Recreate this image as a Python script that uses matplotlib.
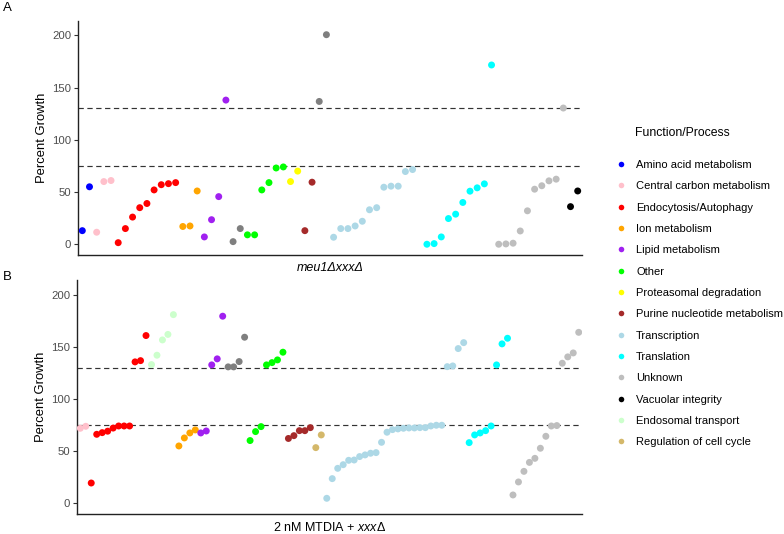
import numpy as np
import matplotlib
matplotlib.use("Agg")
import matplotlib.pyplot as plt
from matplotlib.lines import Line2D

plt.rcParams['font.family'] = ['Liberation Sans', 'DejaVu Sans']
plt.rcParams['mathtext.fontset'] = 'custom'
plt.rcParams['mathtext.rm'] = 'Liberation Sans'
plt.rcParams['mathtext.it'] = 'Liberation Sans:italic'

# colours per Function/Process (None = not in legend)
colors = {
    'Amino acid metabolism': 'blue',
    'Central carbon metabolism': 'pink',
    'Endocytosis/Autophagy': 'red',
    'Ion metabolism': 'orange',
    'Lipid metabolism': '#A020F0',
    'Other': '#00FF00',
    'Proteasomal degradation': 'yellow',
    'Purine nucleotide metabolism': 'brown',
    'Transcription': 'lightblue',
    'Translation': 'cyan',
    'Unknown': '#BEBEBE',
    'Vacuolar integrity': 'black',
    'Endosomal transport': '#CCFFCC',
    'Regulation of cell cycle': '#D4B86A',
    None: '#7F7F7F',
}
legend_order = [k for k in colors if k is not None]

# panel A: meu1ΔxxxΔ  (nan = empty slot on the x axis)
a_groups = [
    ('Amino acid metabolism', [13, 55]),
    ('Central carbon metabolism', [11.5, 60, 61]),
    ('Endocytosis/Autophagy', [1.5, 15, 26, 35, 39, 52, 57, 58, 59]),
    ('Ion metabolism', [17, 17.5, 51]),
    ('Lipid metabolism', [7, 23.5, 45.6, 138]),
    (None, [2.5, 15]),
    ('Other', [9, 9, 52, 59, 73, 74]),
    ('Proteasomal degradation', [60, 70]),
    ('Purine nucleotide metabolism', [13, 59.4]),
    (None, [136.7, 200.6]),
    ('Transcription', [6.7, 15, 15, 17.5, 22, 33, 35, 54.6, 55.6, 55.6, 69.6, 71.5, np.nan]),
    ('Translation', [0, 0.6, 7, 24.6, 28.8, 40, 50.8, 54, 57.8, 171.6]),
    ('Unknown', [0, 0.3, 1, 12.7, 32, 52.7, 56, 60.7, 62.3, 130.4]),
    ('Vacuolar integrity', [36, 51]),
]

# panel B: 2 nM MTDIA + xxxΔ
b_groups = [
    ('Central carbon metabolism', [71.8, 73.7]),
    ('Endocytosis/Autophagy', [19.2, 66, 67.6, 69, 72, 74, 74, 74, 135.6, 136.8, 160.9]),
    ('Endosomal transport', [133, 142, 156.7, 162, 181]),
    ('Ion metabolism', [54.8, 62.5, 67.3, 70.2]),
    ('Lipid metabolism', [67.3, 69.2, 132.7, 138.5, 179.5]),
    (None, [130.8, 130.8, 135.9, 159.3]),
    ('Other', [60, 68.6, 73.4, 132.7, 134.9, 137.5, 144.9]),
    ('Purine nucleotide metabolism', [62, 64.7, 69.5, 69.5, 72.4]),
    ('Regulation of cell cycle', [53.2, 65.4]),
    ('Transcription', [4.5, 23.4, 33.3, 36.8, 41, 41.3, 44.6, 46.2, 47.8, 48.4, 58.3, 68,
                       70.5, 71.2, 71.8, 72.1, 72.1, 72.4, 72.4, 74, 74.7, 74.7,
                       131, 131.7, 148.4, 154.1]),
    ('Translation', [58, 65.4, 67.3, 69.5, 74, 132.7, 152.9, 158.3]),
    ('Unknown', [7.7, 20.2, 30.4, 39, 42.9, 52.6, 64.1, 74, 74.4, 134.3, 140.4, 144.2, 164]),
]

thresholds = [75, 130]
yticks = [0, 50, 100, 150, 200]


def draw_panel(ax, groups):
    cats, vals = [], []
    for cat, v in groups:
        cats += [cat] * len(v)
        vals += list(v)
    vals = np.array(vals, dtype=float)
    x = np.arange(len(vals))
    ax.scatter(x, vals, c=[colors[c] for c in cats], s=25, linewidths=0, zorder=3)
    for t in thresholds:
        ax.axhline(t, color='#333333', lw=0.85, ls=(0, (4.5, 3)), zorder=2)
    ax.set_xlim(-0.6, len(vals) - 1 + 0.6)
    ax.set_ylim(-10.3, 214)
    ax.set_xticks([])
    ax.set_yticks(yticks)
    ax.tick_params(axis='y', labelsize=8.2, labelcolor='#4D4D4D', color='#333333',
                   length=3, width=0.8, pad=2)
    for s in ['top', 'right']:
        ax.spines[s].set_visible(False)
    for s in ['left', 'bottom']:
        ax.spines[s].set_linewidth(1.0)
        ax.spines[s].set_color('#222222')
    ax.set_ylabel('Percent Growth', fontsize=9.4, labelpad=3)


fig = plt.figure(figsize=(7.84, 5.34), dpi=100)
axA = fig.add_axes([78 / 784, 1 - 255 / 534, 504 / 784, 234.3 / 534])
axB = fig.add_axes([77 / 784, 1 - 513.7 / 534, 505 / 784, 233.4 / 534])
draw_panel(axA, a_groups)
draw_panel(axB, b_groups)

axA.set_xlabel('meu1ΔxxxΔ', fontsize=9, style='italic', labelpad=5)
axB.set_xlabel(r'2 nM MTDIA + $\it{xxx\Delta}$', fontsize=9, labelpad=5)

fig.text(3 / 784, 1 - 8 / 534, 'A', fontsize=9.5, va='center', ha='left')
fig.text(3 / 784, 1 - 277 / 534, 'B', fontsize=9.5, va='center', ha='left')

fig.text(635 / 784, 1 - 133 / 534, 'Function/Process', fontsize=8.8, va='center', ha='left')
handles = [Line2D([], [], ls='none', marker='o', ms=4, mec='none', mfc=colors[k])
           for k in legend_order]
fig.legend(handles, legend_order, loc='upper left', bbox_to_anchor=(604 / 784, 1 - 150 / 534),
           frameon=False, fontsize=8, labelspacing=1.02, handletextpad=0.8,
           handlelength=1.2)

fig.savefig('out.png', dpi=100)
